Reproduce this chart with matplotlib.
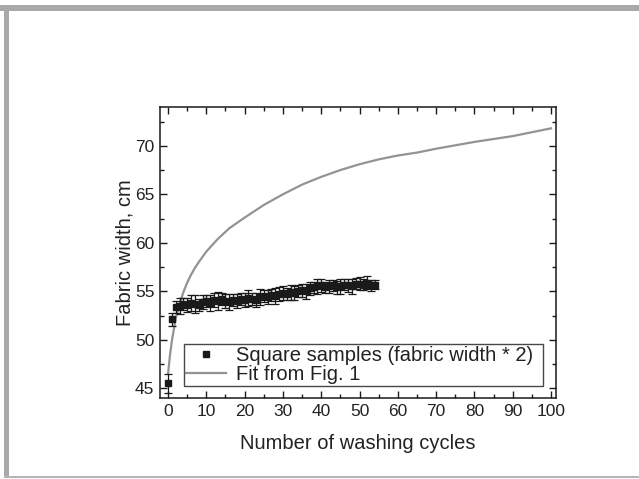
import numpy as np
import matplotlib
matplotlib.use('Agg')
import matplotlib.pyplot as plt
from matplotlib.ticker import MultipleLocator
from matplotlib.lines import Line2D
from matplotlib.patches import Rectangle

plt.rcParams['font.family'] = ['Liberation Sans', 'DejaVu Sans']

# Square samples (fabric width * 2), one point per washing cycle
cycles = list(range(0, 55))
width = [45.5, 52.1, 53.4, 53.5, 53.7, 53.6, 53.8, 53.7, 53.6, 53.9,
         54.0, 53.8, 54.1, 54.0, 54.2, 54.0, 53.9, 54.1, 54.0, 54.2,
         54.1, 54.3, 54.2, 54.1, 54.4, 54.5, 54.4, 54.6, 54.5, 54.7,
         54.8, 54.7, 54.9, 54.8, 55.0, 55.1, 55.0, 55.3, 55.4, 55.5,
         55.6, 55.4, 55.5, 55.6, 55.4, 55.5, 55.7, 55.6, 55.5, 55.8,
         55.8, 55.7, 55.9, 55.6, 55.7]
width_err = [1.0, 0.7, 0.6, 0.8, 0.6, 0.7, 0.8, 0.9, 0.6, 0.7,
             0.6, 0.8, 0.7, 0.9, 0.6, 0.7, 0.8, 0.6, 0.7, 0.6,
             0.7, 0.8, 0.6, 0.7, 0.8, 0.6, 0.7, 0.6, 0.8, 0.7,
             0.7, 0.6, 0.8, 0.7, 0.6, 0.7, 0.8, 0.7, 0.6, 0.8,
             0.7, 0.6, 0.7, 0.6, 0.7, 0.8, 0.6, 0.7, 0.8, 0.6,
             0.7, 0.6, 0.7, 0.6, 0.5]

# Fit from Fig. 1
fit_x = [0, 0.5, 1, 2, 3, 4, 5, 6, 7, 8, 10, 13, 16, 20, 25, 30, 35,
         40, 45, 50, 55, 60, 65, 70, 80, 90, 100]
fit_y = [46.5, 48.4, 49.9, 52.2, 53.7, 54.9, 55.9, 56.7, 57.4, 58.0, 59.1,
         60.4, 61.5, 62.6, 63.9, 65.0, 66.0, 66.8, 67.5, 68.1, 68.6, 69.0,
         69.3, 69.7, 70.4, 71.0, 71.8]

fig = plt.figure(figsize=(6.39, 4.79), dpi=100)

# grey page frame
fig.patches.append(Rectangle((0.0, 1 - 10.5 / 479), 1.0, 5.5 / 479, transform=fig.transFigure,
                             facecolor='#a9a9ab', edgecolor='none'))
fig.patches.append(Rectangle((4 / 639, 2 / 479), 5 / 639, 1 - 12.5 / 479, transform=fig.transFigure,
                             facecolor='#a9a9ab', edgecolor='none'))
fig.patches.append(Rectangle((4 / 639, 1.0 / 479), 1.0, 2 / 479, transform=fig.transFigure,
                             facecolor='#b4b4b6', edgecolor='none'))

ax = fig.add_axes([0.2504, 0.1691, 0.6197, 0.6075])

ax.plot(fit_x, fit_y, color='#939393', lw=1.6, zorder=2)
ax.errorbar(cycles, width, yerr=width_err, fmt='s', color='#1a1a1a', ms=5,
            ecolor='#1a1a1a', elinewidth=0.9, capsize=3, capthick=0.9, zorder=3)

ax.set_xlim(-2.1, 101.3)
ax.set_ylim(44, 74)
ax.xaxis.set_major_locator(MultipleLocator(10))
ax.xaxis.set_minor_locator(MultipleLocator(5))
ax.yaxis.set_major_locator(MultipleLocator(5))
ax.yaxis.set_minor_locator(MultipleLocator(2.5))
ax.tick_params(which='both', direction='in', top=True, right=True, width=1, color='#1a1a1a')
ax.tick_params(which='major', length=5, labelsize=12.5, labelcolor='#222222', pad=4)
ax.tick_params(which='minor', length=3)
for s in ax.spines.values():
    s.set_linewidth(1.1)
    s.set_color('#1a1a1a')

ax.set_xlabel('Number of washing cycles', fontsize=14.5, color='#222222', labelpad=11)
ax.set_ylabel('Fabric width, cm', fontsize=14.5, color='#222222', labelpad=0)

handles = [Line2D([], [], marker='s', ls='none', color='#1a1a1a', ms=5),
           Line2D([], [], color='#939393', lw=1.6)]
leg = ax.legend(handles, ['Square samples (fabric width * 2)', 'Fit from Fig. 1'],
                loc='lower left', bbox_to_anchor=(0.061, 0.041, 0.906, 0.162), mode='expand',
                fontsize=14.5, frameon=True, fancybox=False, borderpad=0.1,
                labelspacing=0.0, handlelength=2.0, handletextpad=0.45, borderaxespad=0)
leg.get_frame().set_edgecolor('#1a1a1a')
leg.get_frame().set_linewidth(1.0)
for t in leg.get_texts():
    t.set_color('#222222')

fig.savefig('out.png', dpi=100)
